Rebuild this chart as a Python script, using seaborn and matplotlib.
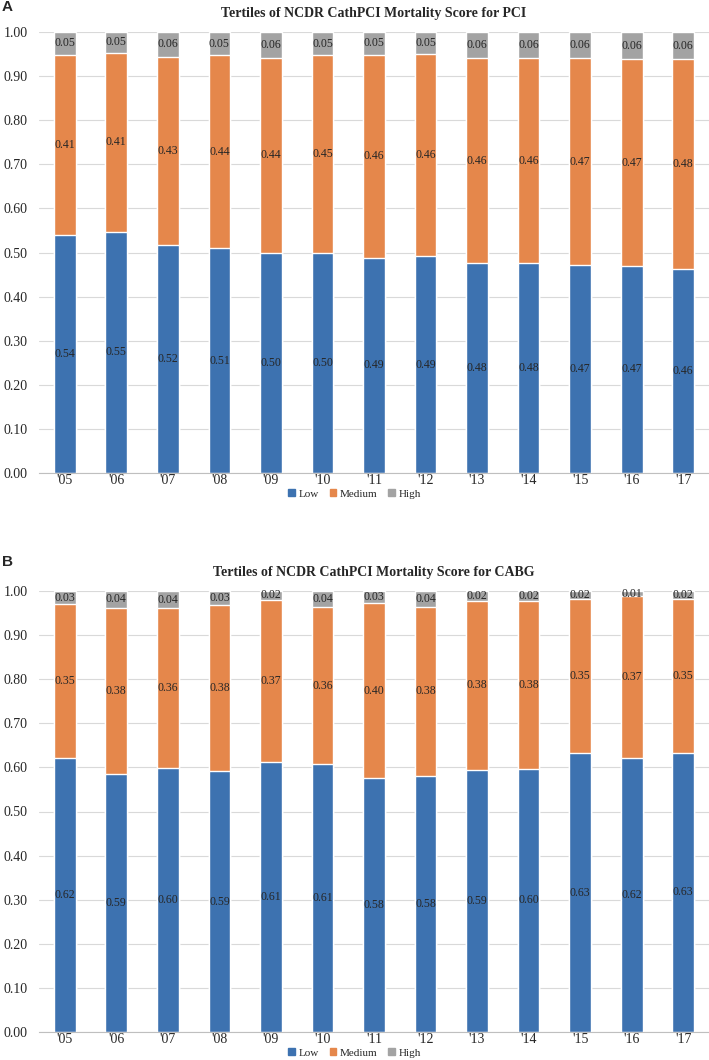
import numpy as np
import pandas as pd
import seaborn as sns
import matplotlib.pyplot as plt

# data
years = ["'05", "'06", "'07", "'08", "'09", "'10", "'11", "'12", "'13", "'14", "'15", "'16", "'17"]

pci_low = [0.540, 0.547, 0.518, 0.510, 0.499, 0.499, 0.488, 0.492, 0.477, 0.476, 0.472, 0.470, 0.462]
pci_med = [0.408, 0.406, 0.426, 0.437, 0.443, 0.448, 0.460, 0.457, 0.463, 0.464, 0.468, 0.468, 0.476]
pci_high = [0.052, 0.047, 0.056, 0.053, 0.058, 0.053, 0.052, 0.051, 0.060, 0.060, 0.060, 0.062, 0.062]

cabg_low = [0.622, 0.586, 0.599, 0.591, 0.613, 0.607, 0.576, 0.581, 0.594, 0.597, 0.632, 0.621, 0.633]
cabg_med = [0.348, 0.376, 0.362, 0.377, 0.367, 0.356, 0.396, 0.383, 0.384, 0.381, 0.350, 0.367, 0.349]
cabg_high = [0.030, 0.038, 0.039, 0.032, 0.020, 0.037, 0.028, 0.036, 0.022, 0.022, 0.018, 0.012, 0.018]

titles = ["Tertiles of NCDR CathPCI Mortality Score for PCI",
          "Tertiles of NCDR CathPCI Mortality Score for CABG"]
tiers = ["Low", "Medium", "High"]
colors = {"Low": "#3D72B0", "Medium": "#E5874B", "High": "#A3A3A3"}

sns.set_style("white")
plt.rcParams["font.family"] = ["Liberation Serif", "DejaVu Serif"]

fig = plt.figure(figsize=(7.09, 10.60), dpi=100)
H = 1060.0
ax_a = fig.add_axes([39 / 709, 1 - 473 / H, 670 / 709, 441 / H])
ax_b = fig.add_axes([39 / 709, 1 - 1032 / H, 670 / 709, 441 / H])


def draw_panel(ax, low, med, high, title):
    df = pd.DataFrame({"year": years, "Low": low, "Medium": med, "High": high})
    df["lm"] = df["Low"] + df["Medium"]
    df["total"] = df["lm"] + df["High"]
    # draw tallest first so shorter stacks sit on top
    for col, tier in [("total", "High"), ("lm", "Medium"), ("Low", "Low")]:
        sns.barplot(data=df, x="year", y=col, color=colors[tier], width=0.42,
                    saturation=1, ax=ax, zorder=2)
    for i, r in df.iterrows():
        ax.text(i, r["Low"] / 2, f"{r['Low']:.2f}", ha="center", va="center", fontsize=8.5, zorder=3)
        ax.text(i, r["Low"] + r["Medium"] / 2, f"{r['Medium']:.2f}", ha="center", va="center",
                fontsize=8.5, zorder=3)
        ax.text(i, r["lm"] + r["High"] / 2, f"{r['High']:.2f}", ha="center", va="center",
                fontsize=8.5, zorder=3)
    ax.set_ylim(0, 1.0)
    ax.set_xlim(-0.5, len(years) - 0.5)
    ticks = np.arange(0, 1.01, 0.1)
    ax.set_yticks(ticks)
    ax.set_yticklabels([f"{v:.2f}" for v in ticks])
    ax.yaxis.grid(True, color="#D9D9D9", lw=0.8, zorder=0)
    ax.set_axisbelow(True)
    ax.set_xlabel("")
    ax.set_ylabel("")
    for s in ["top", "right", "left"]:
        ax.spines[s].set_visible(False)
    ax.spines["bottom"].set_color("#BFBFBF")
    ax.tick_params(axis="both", length=0, labelsize=10)
    ax.tick_params(axis="x", pad=1)
    ax.tick_params(axis="y", pad=8)
    ax.set_title(title, fontsize=10, fontweight="bold", pad=11)


draw_panel(ax_a, pci_low, pci_med, pci_high, titles[0])
draw_panel(ax_b, cabg_low, cabg_med, cabg_high, titles[1])

# legends below the x tick labels
for ax, ly in [(ax_a, 494), (ax_b, 1053)]:
    handles = [plt.Rectangle((0, 0), 1, 1, color=colors[t]) for t in tiers]
    fig.legend(handles, tiers, loc="center", bbox_to_anchor=(0.5, 1 - ly / H), ncol=3,
               frameon=False, fontsize=8, handlelength=0.6, handleheight=0.6,
               handletextpad=0.3, columnspacing=1.0)

fig.text(2 / 709, 1 - 7 / H, "A", fontsize=11, fontweight="bold", family="Liberation Sans", va="center")
fig.text(2 / 709, 1 - 562 / H, "B", fontsize=11, fontweight="bold", family="Liberation Sans", va="center")

fig.savefig("out.png", dpi=100)
